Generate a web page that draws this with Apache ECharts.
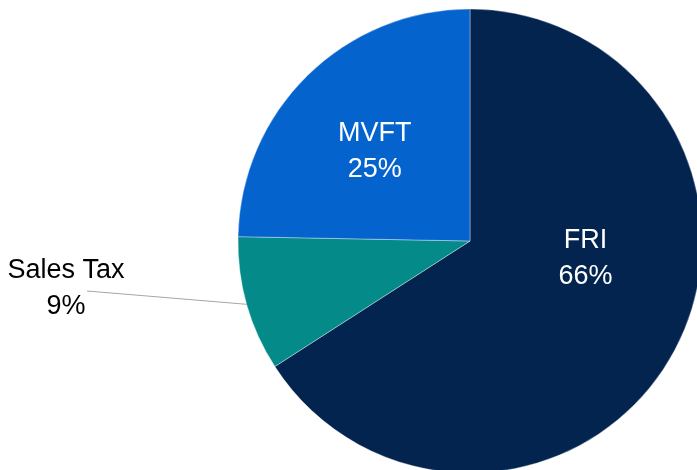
<!DOCTYPE html>
<html>
<head>
<meta charset="utf-8">
<script src="https://cdn.jsdelivr.net/npm/echarts@6/dist/echarts.min.js"></script>
<style>
  html, body { margin: 0; padding: 0; background: #fff; }
  #pie { width: 697px; height: 470px; }
</style>
</head>
<body>
<div id="pie"></div>
<script>
// revenue sources (share of total)
var names = ["FRI", "Sales Tax", "MVFT"];
var values = [65.9, 9.4, 24.7];
var colors = ["#03244F", "#048B89", "#0563CE"];

var font = "'Liberation Sans Narrow', 'Arial Narrow', 'Liberation Sans', Arial, sans-serif";

var data = [];
for (var i = 0; i < names.length; i++) {
  data.push({ name: names[i], value: values[i], itemStyle: { color: colors[i] } });
}
// FRI label sits a bit higher than the default middle spot
data[0].label = { offset: [11, -39] };
// Sales Tax label goes outside with a leader line
data[1].label = { position: "outside", color: "#000" };
data[1].labelLine = { show: true };
data[2].label = { offset: [-12, -5] };

var myChart = echarts.init(document.getElementById("pie"));
myChart.setOption({
  animation: false,
  series: [
    {
      type: "pie",
      center: [470, 241],
      radius: 232,
      startAngle: 90,
      clockwise: true,
      percentPrecision: 0,
      data: data,
      itemStyle: {
        borderColor: "rgba(255,255,255,0.6)",
        borderWidth: 0.6
      },
      label: {
        show: true,
        position: "inside",
        formatter: "{b}\n{d}%",
        color: "#fff",
        fontFamily: font,
        fontSize: 27,
        lineHeight: 36
      },
      labelLine: {
        show: false,
        lineStyle: { color: "#A6A6A6", width: 1 }
      },
      labelLayout: function (params) {
        if (params.dataIndex !== 1) return {};
        var start = params.labelLinePoints ? params.labelLinePoints[0] : [245, 304];
        return {
          x: 66,
          y: 289,
          align: "center",
          verticalAlign: "middle",
          labelLinePoints: [start, [87, 291], [87, 291]]
        };
      }
    }
  ]
});
</script>
</body>
</html>
